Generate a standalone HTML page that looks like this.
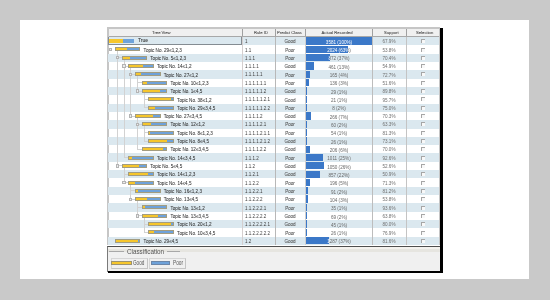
<!DOCTYPE html><html><head><meta charset="utf-8"><style>
*{margin:0;padding:0;box-sizing:border-box}
html,body{width:550px;height:300px;overflow:hidden;background:#c9c9c9}
body{position:relative;will-change:transform;font-family:"Liberation Sans",sans-serif;color:#333333}
.a{position:absolute}
.t{position:absolute;white-space:nowrap;font-size:4.6px;line-height:8.32px;padding-top:1.3px;-webkit-text-stroke:0.05px currentColor}
.h{position:absolute;white-space:nowrap;font-size:4.2px;line-height:7px;top:29px;-webkit-text-stroke:0.04px currentColor;color:#3a3a3a}
</style></head><body>
<div class="a" style="left:20px;top:20px;width:509px;height:259px;background:#fff"></div>
<div class="a" style="left:107px;top:27px;width:333px;height:219px;background:#fff;border:2px solid #c6c6c6;border-bottom:none;border-right:1px solid #c6c6c6"></div>
<div class="a" style="left:109px;top:29px;width:330px;height:7px;background:#f0f0f0"></div>
<div class="a" style="left:109px;top:36px;width:330px;height:1px;background:#a8a8a8"></div>
<div class="a" style="left:108px;top:37.00px;width:331px;height:8.32px;background:#dbe8ef"></div>
<div class="a" style="left:108px;top:53.64px;width:331px;height:8.32px;background:#dbe8ef"></div>
<div class="a" style="left:108px;top:70.28px;width:331px;height:8.32px;background:#dbe8ef"></div>
<div class="a" style="left:108px;top:86.92px;width:331px;height:8.32px;background:#dbe8ef"></div>
<div class="a" style="left:108px;top:103.56px;width:331px;height:8.32px;background:#dbe8ef"></div>
<div class="a" style="left:108px;top:120.20px;width:331px;height:8.32px;background:#dbe8ef"></div>
<div class="a" style="left:108px;top:136.84px;width:331px;height:8.32px;background:#dbe8ef"></div>
<div class="a" style="left:108px;top:153.48px;width:331px;height:8.32px;background:#dbe8ef"></div>
<div class="a" style="left:108px;top:170.12px;width:331px;height:8.32px;background:#dbe8ef"></div>
<div class="a" style="left:108px;top:186.76px;width:331px;height:8.32px;background:#dbe8ef"></div>
<div class="a" style="left:108px;top:203.40px;width:331px;height:8.32px;background:#dbe8ef"></div>
<div class="a" style="left:108px;top:220.04px;width:331px;height:8.32px;background:#dbe8ef"></div>
<div class="a" style="left:108px;top:236.68px;width:331px;height:8.32px;background:#dbe8ef"></div>
<div class="a" style="left:241.5px;top:37px;width:1px;height:208px;background:#d4cfcf"></div>
<div class="a" style="left:241.5px;top:29px;width:1px;height:7px;background:#a0a0a0"></div>
<div class="a" style="left:275.2px;top:37px;width:1px;height:208px;background:#b8b8b8"></div>
<div class="a" style="left:275.2px;top:29px;width:1px;height:7px;background:#a0a0a0"></div>
<div class="a" style="left:305.2px;top:37px;width:1px;height:208px;background:#cfcfcf"></div>
<div class="a" style="left:305.2px;top:29px;width:1px;height:7px;background:#a0a0a0"></div>
<div class="a" style="left:372.2px;top:37px;width:1px;height:208px;background:#bdbdbd"></div>
<div class="a" style="left:372.2px;top:29px;width:1px;height:7px;background:#a0a0a0"></div>
<div class="a" style="left:406.2px;top:37px;width:1px;height:208px;background:#c4c4c4"></div>
<div class="a" style="left:406.2px;top:29px;width:1px;height:7px;background:#a0a0a0"></div>
<div class="h" style="left:152.0px">Tree View</div>
<div class="h" style="left:254.0px">Rule ID</div>
<div class="h" style="left:277.0px">Predict Class</div>
<div class="h" style="left:321.5px">Actual Recorded</div>
<div class="h" style="left:384.0px">Support</div>
<div class="h" style="left:416.0px">Selection</div>
<div class="a" style="left:116.80px;top:50.98px;width:1px;height:114.98px;background:#d2d2d2"></div>
<div class="a" style="left:117.30px;top:57.30px;width:4.60px;height:1px;background:#d2d2d2"></div>
<div class="a" style="left:117.30px;top:165.46px;width:4.60px;height:1px;background:#d2d2d2"></div>
<div class="a" style="left:123.50px;top:59.30px;width:1px;height:98.34px;background:#d2d2d2"></div>
<div class="a" style="left:124.00px;top:65.62px;width:4.60px;height:1px;background:#d2d2d2"></div>
<div class="a" style="left:124.00px;top:157.14px;width:4.60px;height:1px;background:#d2d2d2"></div>
<div class="a" style="left:130.20px;top:67.62px;width:1px;height:48.42px;background:#d2d2d2"></div>
<div class="a" style="left:130.70px;top:73.94px;width:4.60px;height:1px;background:#d2d2d2"></div>
<div class="a" style="left:130.70px;top:115.54px;width:4.60px;height:1px;background:#d2d2d2"></div>
<div class="a" style="left:136.90px;top:75.94px;width:1px;height:15.14px;background:#d2d2d2"></div>
<div class="a" style="left:137.40px;top:82.26px;width:4.60px;height:1px;background:#d2d2d2"></div>
<div class="a" style="left:137.40px;top:90.58px;width:4.60px;height:1px;background:#d2d2d2"></div>
<div class="a" style="left:143.60px;top:92.58px;width:1px;height:15.14px;background:#d2d2d2"></div>
<div class="a" style="left:144.10px;top:98.90px;width:4.60px;height:1px;background:#d2d2d2"></div>
<div class="a" style="left:144.10px;top:107.22px;width:4.60px;height:1px;background:#d2d2d2"></div>
<div class="a" style="left:136.90px;top:117.54px;width:1px;height:31.78px;background:#d2d2d2"></div>
<div class="a" style="left:137.40px;top:123.86px;width:4.60px;height:1px;background:#d2d2d2"></div>
<div class="a" style="left:137.40px;top:148.82px;width:4.60px;height:1px;background:#d2d2d2"></div>
<div class="a" style="left:143.60px;top:125.86px;width:1px;height:15.14px;background:#d2d2d2"></div>
<div class="a" style="left:144.10px;top:132.18px;width:4.60px;height:1px;background:#d2d2d2"></div>
<div class="a" style="left:144.10px;top:140.50px;width:4.60px;height:1px;background:#d2d2d2"></div>
<div class="a" style="left:123.50px;top:167.46px;width:1px;height:15.14px;background:#d2d2d2"></div>
<div class="a" style="left:124.00px;top:173.78px;width:4.60px;height:1px;background:#d2d2d2"></div>
<div class="a" style="left:124.00px;top:182.10px;width:4.60px;height:1px;background:#d2d2d2"></div>
<div class="a" style="left:130.20px;top:184.10px;width:1px;height:15.14px;background:#d2d2d2"></div>
<div class="a" style="left:130.70px;top:190.42px;width:4.60px;height:1px;background:#d2d2d2"></div>
<div class="a" style="left:130.70px;top:198.74px;width:4.60px;height:1px;background:#d2d2d2"></div>
<div class="a" style="left:136.90px;top:200.74px;width:1px;height:15.14px;background:#d2d2d2"></div>
<div class="a" style="left:137.40px;top:207.06px;width:4.60px;height:1px;background:#d2d2d2"></div>
<div class="a" style="left:137.40px;top:215.38px;width:4.60px;height:1px;background:#d2d2d2"></div>
<div class="a" style="left:143.60px;top:217.38px;width:1px;height:15.14px;background:#d2d2d2"></div>
<div class="a" style="left:144.10px;top:223.70px;width:4.60px;height:1px;background:#d2d2d2"></div>
<div class="a" style="left:144.10px;top:232.02px;width:4.60px;height:1px;background:#d2d2d2"></div>
<div class="a" style="left:108.20px;top:39.06px;width:25.60px;height:4px;border:0;background:linear-gradient(90deg,#f6c62c 0,#f6c62c 15.15px,#6ea2da 15.15px,#6ea2da 100%)"></div>
<div class="t" style="left:137.90px;top:36.10px;font-size:5.1px;padding-top:0">True</div>
<div class="t" style="left:244.7px;top:37.00px;color:#3c3c3c;font-size:5.2px;padding-top:0.2px;transform:scaleX(0.87);transform-origin:0 0;-webkit-text-stroke:0">1</div>
<div class="t" style="left:275px;width:30px;text-align:center;top:37.00px;color:#4e4e4e">Good</div>
<div class="a" style="left:306px;top:37.40px;width:66.00px;height:7.3px;background:#3b78c8"></div>
<div class="a" style="left:372.00px;top:37.00px;width:0.00px;height:8.32px;overflow:hidden"><div class="t" style="left:-66.00px;top:0;width:66px;text-align:center;color:#686868;-webkit-text-stroke:0;padding-top:1.8px">3581 (100%)</div></div>
<div class="a" style="left:306px;top:37.00px;width:66.00px;height:8.32px;overflow:hidden"><div class="t" style="left:0;top:0;width:66px;text-align:center;color:#fff;-webkit-text-stroke:0;padding-top:1.6px">3581 (100%)</div></div>
<div class="t" style="left:372px;width:34px;text-align:center;top:37.00px;color:#707070;-webkit-text-stroke:0">67.9%</div>
<div class="a" style="left:421px;top:39.20px;width:4px;height:4px;background:#f8f8f8;border-top:1px solid #a6a6a6;border-left:1px solid #a6a6a6"></div>
<div class="a" style="left:108.90px;top:47.78px;width:3.4px;height:3.4px;border:0.8px solid #b4b4b4;background:#ececec"></div>
<div class="a" style="left:114.90px;top:47.38px;width:25.60px;height:4px;border:0.5px solid #a29c80;background:linear-gradient(90deg,#f6c62c 0,#f6c62c 11.40px,#6ea2da 11.40px,#6ea2da 100%)"></div>
<div class="t" style="left:143.60px;top:45.32px">Topic No. 29≤1,2,3</div>
<div class="t" style="left:244.7px;top:45.32px;color:#3c3c3c;font-size:5.2px;padding-top:0.2px;transform:scaleX(0.87);transform-origin:0 0;-webkit-text-stroke:0">1.1</div>
<div class="t" style="left:275px;width:30px;text-align:center;top:45.32px;color:#4e4e4e">Poor</div>
<div class="a" style="left:306px;top:45.72px;width:41.58px;height:7.3px;background:#3b78c8"></div>
<div class="a" style="left:347.58px;top:45.32px;width:24.42px;height:8.32px;overflow:hidden"><div class="t" style="left:-41.58px;top:0;width:66px;text-align:center;color:#686868;-webkit-text-stroke:0;padding-top:1.8px">2024 (63%)</div></div>
<div class="a" style="left:306px;top:45.32px;width:41.58px;height:8.32px;overflow:hidden"><div class="t" style="left:0;top:0;width:66px;text-align:center;color:#fff;-webkit-text-stroke:0;padding-top:1.6px">2024 (63%)</div></div>
<div class="t" style="left:372px;width:34px;text-align:center;top:45.32px;color:#707070;-webkit-text-stroke:0">53.8%</div>
<div class="a" style="left:421px;top:47.52px;width:4px;height:4px;background:#f8f8f8;border-top:1px solid #a6a6a6;border-left:1px solid #a6a6a6"></div>
<div class="a" style="left:115.60px;top:56.10px;width:3.4px;height:3.4px;border:0.8px solid #b4b4b4;background:#ececec"></div>
<div class="a" style="left:121.60px;top:55.70px;width:25.60px;height:4px;border:0.5px solid #a29c80;background:linear-gradient(90deg,#f6c62c 0,#f6c62c 6.90px,#6ea2da 6.90px,#6ea2da 100%)"></div>
<div class="t" style="left:150.30px;top:53.64px">Topic No. 5≤1,2,3</div>
<div class="t" style="left:244.7px;top:53.64px;color:#3c3c3c;font-size:5.2px;padding-top:0.2px;transform:scaleX(0.87);transform-origin:0 0;-webkit-text-stroke:0">1.1.1</div>
<div class="t" style="left:275px;width:30px;text-align:center;top:53.64px;color:#4e4e4e">Poor</div>
<div class="a" style="left:306px;top:54.04px;width:23.76px;height:7.3px;background:#3b78c8"></div>
<div class="a" style="left:329.76px;top:53.64px;width:42.24px;height:8.32px;overflow:hidden"><div class="t" style="left:-23.76px;top:0;width:66px;text-align:center;color:#686868;-webkit-text-stroke:0;padding-top:1.8px">872 (37%)</div></div>
<div class="a" style="left:306px;top:53.64px;width:23.76px;height:8.32px;overflow:hidden"><div class="t" style="left:0;top:0;width:66px;text-align:center;color:#fff;-webkit-text-stroke:0;padding-top:1.6px">872 (37%)</div></div>
<div class="t" style="left:372px;width:34px;text-align:center;top:53.64px;color:#707070;-webkit-text-stroke:0">70.4%</div>
<div class="a" style="left:421px;top:55.84px;width:4px;height:4px;background:#f8f8f8;border-top:1px solid #a6a6a6;border-left:1px solid #a6a6a6"></div>
<div class="a" style="left:122.30px;top:64.42px;width:3.4px;height:3.4px;border:0.8px solid #b4b4b4;background:#ececec"></div>
<div class="a" style="left:128.30px;top:64.02px;width:25.60px;height:4px;border:0.5px solid #a29c80;background:linear-gradient(90deg,#f6c62c 0,#f6c62c 13.65px,#6ea2da 13.65px,#6ea2da 100%)"></div>
<div class="t" style="left:157.00px;top:61.96px">Topic No. 14≤1,2</div>
<div class="t" style="left:244.7px;top:61.96px;color:#3c3c3c;font-size:5.2px;padding-top:0.2px;transform:scaleX(0.87);transform-origin:0 0;-webkit-text-stroke:0">1.1.1.1</div>
<div class="t" style="left:275px;width:30px;text-align:center;top:61.96px;color:#4e4e4e">Good</div>
<div class="a" style="left:306px;top:62.36px;width:7.92px;height:7.3px;background:#3b78c8"></div>
<div class="a" style="left:313.92px;top:61.96px;width:58.08px;height:8.32px;overflow:hidden"><div class="t" style="left:-7.92px;top:0;width:66px;text-align:center;color:#686868;-webkit-text-stroke:0;padding-top:1.8px">461 (13%)</div></div>
<div class="a" style="left:306px;top:61.96px;width:7.92px;height:8.32px;overflow:hidden"><div class="t" style="left:0;top:0;width:66px;text-align:center;color:#fff;-webkit-text-stroke:0;padding-top:1.6px">461 (13%)</div></div>
<div class="t" style="left:372px;width:34px;text-align:center;top:61.96px;color:#707070;-webkit-text-stroke:0">54.9%</div>
<div class="a" style="left:421px;top:64.16px;width:4px;height:4px;background:#f8f8f8;border-top:1px solid #a6a6a6;border-left:1px solid #a6a6a6"></div>
<div class="a" style="left:129.00px;top:72.74px;width:3.4px;height:3.4px;border:0.8px solid #b4b4b4;background:#ececec"></div>
<div class="a" style="left:135.00px;top:72.34px;width:25.60px;height:4px;border:0.5px solid #a29c80;background:linear-gradient(90deg,#f6c62c 0,#f6c62c 4.90px,#6ea2da 4.90px,#6ea2da 100%)"></div>
<div class="t" style="left:163.70px;top:70.28px">Topic No. 27≤1,2</div>
<div class="t" style="left:244.7px;top:70.28px;color:#3c3c3c;font-size:5.2px;padding-top:0.2px;transform:scaleX(0.87);transform-origin:0 0;-webkit-text-stroke:0">1.1.1.1.1</div>
<div class="t" style="left:275px;width:30px;text-align:center;top:70.28px;color:#4e4e4e">Poor</div>
<div class="a" style="left:306px;top:70.68px;width:3.63px;height:7.3px;background:#3b78c8"></div>
<div class="a" style="left:309.63px;top:70.28px;width:62.37px;height:8.32px;overflow:hidden"><div class="t" style="left:-3.63px;top:0;width:66px;text-align:center;color:#686868;-webkit-text-stroke:0;padding-top:1.8px">165 (4%)</div></div>
<div class="a" style="left:306px;top:70.28px;width:3.63px;height:8.32px;overflow:hidden"><div class="t" style="left:0;top:0;width:66px;text-align:center;color:#fff;-webkit-text-stroke:0;padding-top:1.6px">165 (4%)</div></div>
<div class="t" style="left:372px;width:34px;text-align:center;top:70.28px;color:#707070;-webkit-text-stroke:0">72.7%</div>
<div class="a" style="left:421px;top:72.48px;width:4px;height:4px;background:#f8f8f8;border-top:1px solid #a6a6a6;border-left:1px solid #a6a6a6"></div>
<div class="a" style="left:141.70px;top:80.66px;width:25.60px;height:4px;border:0.5px solid #a29c80;background:linear-gradient(90deg,#f6c62c 0,#f6c62c 4.40px,#6ea2da 4.40px,#6ea2da 100%)"></div>
<div class="t" style="left:170.40px;top:78.60px">Topic No. 10≤1,2,3</div>
<div class="t" style="left:244.7px;top:78.60px;color:#3c3c3c;font-size:5.2px;padding-top:0.2px;transform:scaleX(0.87);transform-origin:0 0;-webkit-text-stroke:0">1.1.1.1.1.1</div>
<div class="t" style="left:275px;width:30px;text-align:center;top:78.60px;color:#4e4e4e">Poor</div>
<div class="a" style="left:306px;top:79.00px;width:2.64px;height:7.3px;background:#3b78c8"></div>
<div class="a" style="left:308.64px;top:78.60px;width:63.36px;height:8.32px;overflow:hidden"><div class="t" style="left:-2.64px;top:0;width:66px;text-align:center;color:#686868;-webkit-text-stroke:0;padding-top:1.8px">136 (3%)</div></div>
<div class="a" style="left:306px;top:78.60px;width:2.64px;height:8.32px;overflow:hidden"><div class="t" style="left:0;top:0;width:66px;text-align:center;color:#fff;-webkit-text-stroke:0;padding-top:1.6px">136 (3%)</div></div>
<div class="t" style="left:372px;width:34px;text-align:center;top:78.60px;color:#707070;-webkit-text-stroke:0">51.6%</div>
<div class="a" style="left:421px;top:80.80px;width:4px;height:4px;background:#f8f8f8;border-top:1px solid #a6a6a6;border-left:1px solid #a6a6a6"></div>
<div class="a" style="left:135.70px;top:89.38px;width:3.4px;height:3.4px;border:0.8px solid #b4b4b4;background:#ececec"></div>
<div class="a" style="left:141.70px;top:88.98px;width:25.60px;height:4px;border:0.5px solid #a29c80;background:linear-gradient(90deg,#f6c62c 0,#f6c62c 16.65px,#6ea2da 16.65px,#6ea2da 100%)"></div>
<div class="t" style="left:170.40px;top:86.92px">Topic No. 1≤4,5</div>
<div class="t" style="left:244.7px;top:86.92px;color:#3c3c3c;font-size:5.2px;padding-top:0.2px;transform:scaleX(0.87);transform-origin:0 0;-webkit-text-stroke:0">1.1.1.1.1.2</div>
<div class="t" style="left:275px;width:30px;text-align:center;top:86.92px;color:#4e4e4e">Good</div>
<div class="a" style="left:306px;top:87.32px;width:0.66px;height:7.3px;background:#3b78c8"></div>
<div class="a" style="left:306.66px;top:86.92px;width:65.34px;height:8.32px;overflow:hidden"><div class="t" style="left:-0.66px;top:0;width:66px;text-align:center;color:#686868;-webkit-text-stroke:0;padding-top:1.8px">29 (1%)</div></div>
<div class="a" style="left:306px;top:86.92px;width:0.66px;height:8.32px;overflow:hidden"><div class="t" style="left:0;top:0;width:66px;text-align:center;color:#fff;-webkit-text-stroke:0;padding-top:1.6px">29 (1%)</div></div>
<div class="t" style="left:372px;width:34px;text-align:center;top:86.92px;color:#707070;-webkit-text-stroke:0">89.8%</div>
<div class="a" style="left:421px;top:89.12px;width:4px;height:4px;background:#f8f8f8;border-top:1px solid #a6a6a6;border-left:1px solid #a6a6a6"></div>
<div class="a" style="left:148.40px;top:97.30px;width:25.60px;height:4px;border:0.5px solid #a29c80;background:linear-gradient(90deg,#f6c62c 0,#f6c62c 21.65px,#6ea2da 21.65px,#6ea2da 100%)"></div>
<div class="t" style="left:177.10px;top:95.24px">Topic No. 38≤1,2</div>
<div class="t" style="left:244.7px;top:95.24px;color:#3c3c3c;font-size:5.2px;padding-top:0.2px;transform:scaleX(0.87);transform-origin:0 0;-webkit-text-stroke:0">1.1.1.1.1.2.1</div>
<div class="t" style="left:275px;width:30px;text-align:center;top:95.24px;color:#4e4e4e">Good</div>
<div class="a" style="left:306px;top:95.64px;width:0.53px;height:7.3px;background:#3b78c8"></div>
<div class="a" style="left:306.53px;top:95.24px;width:65.47px;height:8.32px;overflow:hidden"><div class="t" style="left:-0.53px;top:0;width:66px;text-align:center;color:#686868;-webkit-text-stroke:0;padding-top:1.8px">21 (1%)</div></div>
<div class="a" style="left:306px;top:95.24px;width:0.53px;height:8.32px;overflow:hidden"><div class="t" style="left:0;top:0;width:66px;text-align:center;color:#fff;-webkit-text-stroke:0;padding-top:1.6px">21 (1%)</div></div>
<div class="t" style="left:372px;width:34px;text-align:center;top:95.24px;color:#707070;-webkit-text-stroke:0">95.7%</div>
<div class="a" style="left:421px;top:97.44px;width:4px;height:4px;background:#f8f8f8;border-top:1px solid #a6a6a6;border-left:1px solid #a6a6a6"></div>
<div class="a" style="left:148.40px;top:105.62px;width:25.60px;height:4px;border:0.5px solid #a29c80;background:linear-gradient(90deg,#f6c62c 0,#f6c62c 6.40px,#6ea2da 6.40px,#6ea2da 100%)"></div>
<div class="t" style="left:177.10px;top:103.56px">Topic No. 29≤3,4,5</div>
<div class="t" style="left:244.7px;top:103.56px;color:#3c3c3c;font-size:5.2px;padding-top:0.2px;transform:scaleX(0.87);transform-origin:0 0;-webkit-text-stroke:0">1.1.1.1.1.2.2</div>
<div class="t" style="left:275px;width:30px;text-align:center;top:103.56px;color:#4e4e4e">Poor</div>
<div class="a" style="left:306px;top:103.96px;width:0.53px;height:7.3px;background:#3b78c8"></div>
<div class="a" style="left:306.53px;top:103.56px;width:65.47px;height:8.32px;overflow:hidden"><div class="t" style="left:-0.53px;top:0;width:66px;text-align:center;color:#686868;-webkit-text-stroke:0;padding-top:1.8px">8 (2%)</div></div>
<div class="a" style="left:306px;top:103.56px;width:0.53px;height:8.32px;overflow:hidden"><div class="t" style="left:0;top:0;width:66px;text-align:center;color:#fff;-webkit-text-stroke:0;padding-top:1.6px">8 (2%)</div></div>
<div class="t" style="left:372px;width:34px;text-align:center;top:103.56px;color:#707070;-webkit-text-stroke:0">75.0%</div>
<div class="a" style="left:421px;top:105.76px;width:4px;height:4px;background:#f8f8f8;border-top:1px solid #a6a6a6;border-left:1px solid #a6a6a6"></div>
<div class="a" style="left:129.00px;top:114.34px;width:3.4px;height:3.4px;border:0.8px solid #b4b4b4;background:#ececec"></div>
<div class="a" style="left:135.00px;top:113.94px;width:25.60px;height:4px;border:0.5px solid #a29c80;background:linear-gradient(90deg,#f6c62c 0,#f6c62c 17.15px,#6ea2da 17.15px,#6ea2da 100%)"></div>
<div class="t" style="left:163.70px;top:111.88px">Topic No. 27≤3,4,5</div>
<div class="t" style="left:244.7px;top:111.88px;color:#3c3c3c;font-size:5.2px;padding-top:0.2px;transform:scaleX(0.87);transform-origin:0 0;-webkit-text-stroke:0">1.1.1.1.2</div>
<div class="t" style="left:275px;width:30px;text-align:center;top:111.88px;color:#4e4e4e">Good</div>
<div class="a" style="left:306px;top:112.28px;width:4.62px;height:7.3px;background:#3b78c8"></div>
<div class="a" style="left:310.62px;top:111.88px;width:61.38px;height:8.32px;overflow:hidden"><div class="t" style="left:-4.62px;top:0;width:66px;text-align:center;color:#686868;-webkit-text-stroke:0;padding-top:1.8px">266 (7%)</div></div>
<div class="a" style="left:306px;top:111.88px;width:4.62px;height:8.32px;overflow:hidden"><div class="t" style="left:0;top:0;width:66px;text-align:center;color:#fff;-webkit-text-stroke:0;padding-top:1.6px">266 (7%)</div></div>
<div class="t" style="left:372px;width:34px;text-align:center;top:111.88px;color:#707070;-webkit-text-stroke:0">70.3%</div>
<div class="a" style="left:421px;top:114.08px;width:4px;height:4px;background:#f8f8f8;border-top:1px solid #a6a6a6;border-left:1px solid #a6a6a6"></div>
<div class="a" style="left:135.70px;top:122.66px;width:3.4px;height:3.4px;border:0.8px solid #b4b4b4;background:#ececec"></div>
<div class="a" style="left:141.70px;top:122.26px;width:25.60px;height:4px;border:0.5px solid #a29c80;background:linear-gradient(90deg,#f6c62c 0,#f6c62c 7.90px,#6ea2da 7.90px,#6ea2da 100%)"></div>
<div class="t" style="left:170.40px;top:120.20px">Topic No. 12≤1,2</div>
<div class="t" style="left:244.7px;top:120.20px;color:#3c3c3c;font-size:5.2px;padding-top:0.2px;transform:scaleX(0.87);transform-origin:0 0;-webkit-text-stroke:0">1.1.1.1.2.1</div>
<div class="t" style="left:275px;width:30px;text-align:center;top:120.20px;color:#4e4e4e">Poor</div>
<div class="a" style="left:306px;top:120.60px;width:1.32px;height:7.3px;background:#3b78c8"></div>
<div class="a" style="left:307.32px;top:120.20px;width:64.68px;height:8.32px;overflow:hidden"><div class="t" style="left:-1.32px;top:0;width:66px;text-align:center;color:#686868;-webkit-text-stroke:0;padding-top:1.8px">60 (2%)</div></div>
<div class="a" style="left:306px;top:120.20px;width:1.32px;height:8.32px;overflow:hidden"><div class="t" style="left:0;top:0;width:66px;text-align:center;color:#fff;-webkit-text-stroke:0;padding-top:1.6px">60 (2%)</div></div>
<div class="t" style="left:372px;width:34px;text-align:center;top:120.20px;color:#707070;-webkit-text-stroke:0">63.3%</div>
<div class="a" style="left:421px;top:122.40px;width:4px;height:4px;background:#f8f8f8;border-top:1px solid #a6a6a6;border-left:1px solid #a6a6a6"></div>
<div class="a" style="left:148.40px;top:130.58px;width:25.60px;height:4px;border:0.5px solid #a29c80;background:linear-gradient(90deg,#f6c62c 0,#f6c62c 1.40px,#6ea2da 1.40px,#6ea2da 100%)"></div>
<div class="t" style="left:177.10px;top:128.52px">Topic No. 8≤1,2,3</div>
<div class="t" style="left:244.7px;top:128.52px;color:#3c3c3c;font-size:5.2px;padding-top:0.2px;transform:scaleX(0.87);transform-origin:0 0;-webkit-text-stroke:0">1.1.1.1.2.1.1</div>
<div class="t" style="left:275px;width:30px;text-align:center;top:128.52px;color:#4e4e4e">Poor</div>
<div class="a" style="left:306px;top:128.92px;width:0.66px;height:7.3px;background:#3b78c8"></div>
<div class="a" style="left:306.66px;top:128.52px;width:65.34px;height:8.32px;overflow:hidden"><div class="t" style="left:-0.66px;top:0;width:66px;text-align:center;color:#686868;-webkit-text-stroke:0;padding-top:1.8px">54 (1%)</div></div>
<div class="a" style="left:306px;top:128.52px;width:0.66px;height:8.32px;overflow:hidden"><div class="t" style="left:0;top:0;width:66px;text-align:center;color:#fff;-webkit-text-stroke:0;padding-top:1.6px">54 (1%)</div></div>
<div class="t" style="left:372px;width:34px;text-align:center;top:128.52px;color:#707070;-webkit-text-stroke:0">81.3%</div>
<div class="a" style="left:421px;top:130.72px;width:4px;height:4px;background:#f8f8f8;border-top:1px solid #a6a6a6;border-left:1px solid #a6a6a6"></div>
<div class="a" style="left:148.40px;top:138.90px;width:25.60px;height:4px;border:0.5px solid #a29c80;background:linear-gradient(90deg,#f6c62c 0,#f6c62c 17.90px,#6ea2da 17.90px,#6ea2da 100%)"></div>
<div class="t" style="left:177.10px;top:136.84px">Topic No. 8≤4,5</div>
<div class="t" style="left:244.7px;top:136.84px;color:#3c3c3c;font-size:5.2px;padding-top:0.2px;transform:scaleX(0.87);transform-origin:0 0;-webkit-text-stroke:0">1.1.1.1.2.1.2</div>
<div class="t" style="left:275px;width:30px;text-align:center;top:136.84px;color:#4e4e4e">Good</div>
<div class="a" style="left:306px;top:137.24px;width:0.53px;height:7.3px;background:#3b78c8"></div>
<div class="a" style="left:306.53px;top:136.84px;width:65.47px;height:8.32px;overflow:hidden"><div class="t" style="left:-0.53px;top:0;width:66px;text-align:center;color:#686868;-webkit-text-stroke:0;padding-top:1.8px">26 (1%)</div></div>
<div class="a" style="left:306px;top:136.84px;width:0.53px;height:8.32px;overflow:hidden"><div class="t" style="left:0;top:0;width:66px;text-align:center;color:#fff;-webkit-text-stroke:0;padding-top:1.6px">26 (1%)</div></div>
<div class="t" style="left:372px;width:34px;text-align:center;top:136.84px;color:#707070;-webkit-text-stroke:0">73.1%</div>
<div class="a" style="left:421px;top:139.04px;width:4px;height:4px;background:#f8f8f8;border-top:1px solid #a6a6a6;border-left:1px solid #a6a6a6"></div>
<div class="a" style="left:141.70px;top:147.22px;width:25.60px;height:4px;border:0.5px solid #a29c80;background:linear-gradient(90deg,#f6c62c 0,#f6c62c 19.90px,#6ea2da 19.90px,#6ea2da 100%)"></div>
<div class="t" style="left:170.40px;top:145.16px">Topic No. 12≤3,4,5</div>
<div class="t" style="left:244.7px;top:145.16px;color:#3c3c3c;font-size:5.2px;padding-top:0.2px;transform:scaleX(0.87);transform-origin:0 0;-webkit-text-stroke:0">1.1.1.1.2.2</div>
<div class="t" style="left:275px;width:30px;text-align:center;top:145.16px;color:#4e4e4e">Good</div>
<div class="a" style="left:306px;top:145.56px;width:3.96px;height:7.3px;background:#3b78c8"></div>
<div class="a" style="left:309.96px;top:145.16px;width:62.04px;height:8.32px;overflow:hidden"><div class="t" style="left:-3.96px;top:0;width:66px;text-align:center;color:#686868;-webkit-text-stroke:0;padding-top:1.8px">206 (6%)</div></div>
<div class="a" style="left:306px;top:145.16px;width:3.96px;height:8.32px;overflow:hidden"><div class="t" style="left:0;top:0;width:66px;text-align:center;color:#fff;-webkit-text-stroke:0;padding-top:1.6px">206 (6%)</div></div>
<div class="t" style="left:372px;width:34px;text-align:center;top:145.16px;color:#707070;-webkit-text-stroke:0">70.0%</div>
<div class="a" style="left:421px;top:147.36px;width:4px;height:4px;background:#f8f8f8;border-top:1px solid #a6a6a6;border-left:1px solid #a6a6a6"></div>
<div class="a" style="left:128.30px;top:155.54px;width:25.60px;height:4px;border:0.5px solid #a29c80;background:linear-gradient(90deg,#f6c62c 0,#f6c62c 3.40px,#6ea2da 3.40px,#6ea2da 100%)"></div>
<div class="t" style="left:157.00px;top:153.48px">Topic No. 14≤3,4,5</div>
<div class="t" style="left:244.7px;top:153.48px;color:#3c3c3c;font-size:5.2px;padding-top:0.2px;transform:scaleX(0.87);transform-origin:0 0;-webkit-text-stroke:0">1.1.1.2</div>
<div class="t" style="left:275px;width:30px;text-align:center;top:153.48px;color:#4e4e4e">Poor</div>
<div class="a" style="left:306px;top:153.88px;width:17.16px;height:7.3px;background:#3b78c8"></div>
<div class="a" style="left:323.16px;top:153.48px;width:48.84px;height:8.32px;overflow:hidden"><div class="t" style="left:-17.16px;top:0;width:66px;text-align:center;color:#686868;-webkit-text-stroke:0;padding-top:1.8px">1011 (25%)</div></div>
<div class="a" style="left:306px;top:153.48px;width:17.16px;height:8.32px;overflow:hidden"><div class="t" style="left:0;top:0;width:66px;text-align:center;color:#fff;-webkit-text-stroke:0;padding-top:1.6px">1011 (25%)</div></div>
<div class="t" style="left:372px;width:34px;text-align:center;top:153.48px;color:#707070;-webkit-text-stroke:0">92.6%</div>
<div class="a" style="left:421px;top:155.68px;width:4px;height:4px;background:#f8f8f8;border-top:1px solid #a6a6a6;border-left:1px solid #a6a6a6"></div>
<div class="a" style="left:115.60px;top:164.26px;width:3.4px;height:3.4px;border:0.8px solid #b4b4b4;background:#ececec"></div>
<div class="a" style="left:121.60px;top:163.86px;width:25.60px;height:4px;border:0.5px solid #a29c80;background:linear-gradient(90deg,#f6c62c 0,#f6c62c 16.40px,#6ea2da 16.40px,#6ea2da 100%)"></div>
<div class="t" style="left:150.30px;top:161.80px">Topic No. 5≤4,5</div>
<div class="t" style="left:244.7px;top:161.80px;color:#3c3c3c;font-size:5.2px;padding-top:0.2px;transform:scaleX(0.87);transform-origin:0 0;-webkit-text-stroke:0">1.1.2</div>
<div class="t" style="left:275px;width:30px;text-align:center;top:161.80px;color:#4e4e4e">Good</div>
<div class="a" style="left:306px;top:162.20px;width:17.82px;height:7.3px;background:#3b78c8"></div>
<div class="a" style="left:323.82px;top:161.80px;width:48.18px;height:8.32px;overflow:hidden"><div class="t" style="left:-17.82px;top:0;width:66px;text-align:center;color:#686868;-webkit-text-stroke:0;padding-top:1.8px">1050 (26%)</div></div>
<div class="a" style="left:306px;top:161.80px;width:17.82px;height:8.32px;overflow:hidden"><div class="t" style="left:0;top:0;width:66px;text-align:center;color:#fff;-webkit-text-stroke:0;padding-top:1.6px">1050 (26%)</div></div>
<div class="t" style="left:372px;width:34px;text-align:center;top:161.80px;color:#707070;-webkit-text-stroke:0">52.6%</div>
<div class="a" style="left:421px;top:164.00px;width:4px;height:4px;background:#f8f8f8;border-top:1px solid #a6a6a6;border-left:1px solid #a6a6a6"></div>
<div class="a" style="left:128.30px;top:172.18px;width:25.60px;height:4px;border:0.5px solid #a29c80;background:linear-gradient(90deg,#f6c62c 0,#f6c62c 19.15px,#6ea2da 19.15px,#6ea2da 100%)"></div>
<div class="t" style="left:157.00px;top:170.12px">Topic No. 14≤1,2,3</div>
<div class="t" style="left:244.7px;top:170.12px;color:#3c3c3c;font-size:5.2px;padding-top:0.2px;transform:scaleX(0.87);transform-origin:0 0;-webkit-text-stroke:0">1.1.2.1</div>
<div class="t" style="left:275px;width:30px;text-align:center;top:170.12px;color:#4e4e4e">Good</div>
<div class="a" style="left:306px;top:170.52px;width:13.86px;height:7.3px;background:#3b78c8"></div>
<div class="a" style="left:319.86px;top:170.12px;width:52.14px;height:8.32px;overflow:hidden"><div class="t" style="left:-13.86px;top:0;width:66px;text-align:center;color:#686868;-webkit-text-stroke:0;padding-top:1.8px">857 (22%)</div></div>
<div class="a" style="left:306px;top:170.12px;width:13.86px;height:8.32px;overflow:hidden"><div class="t" style="left:0;top:0;width:66px;text-align:center;color:#fff;-webkit-text-stroke:0;padding-top:1.6px">857 (22%)</div></div>
<div class="t" style="left:372px;width:34px;text-align:center;top:170.12px;color:#707070;-webkit-text-stroke:0">50.9%</div>
<div class="a" style="left:421px;top:172.32px;width:4px;height:4px;background:#f8f8f8;border-top:1px solid #a6a6a6;border-left:1px solid #a6a6a6"></div>
<div class="a" style="left:122.30px;top:180.90px;width:3.4px;height:3.4px;border:0.8px solid #b4b4b4;background:#ececec"></div>
<div class="a" style="left:128.30px;top:180.50px;width:25.60px;height:4px;border:0.5px solid #a29c80;background:linear-gradient(90deg,#f6c62c 0,#f6c62c 6.40px,#6ea2da 6.40px,#6ea2da 100%)"></div>
<div class="t" style="left:157.00px;top:178.44px">Topic No. 14≤4,5</div>
<div class="t" style="left:244.7px;top:178.44px;color:#3c3c3c;font-size:5.2px;padding-top:0.2px;transform:scaleX(0.87);transform-origin:0 0;-webkit-text-stroke:0">1.1.2.2</div>
<div class="t" style="left:275px;width:30px;text-align:center;top:178.44px;color:#4e4e4e">Poor</div>
<div class="a" style="left:306px;top:178.84px;width:3.63px;height:7.3px;background:#3b78c8"></div>
<div class="a" style="left:309.63px;top:178.44px;width:62.37px;height:8.32px;overflow:hidden"><div class="t" style="left:-3.63px;top:0;width:66px;text-align:center;color:#686868;-webkit-text-stroke:0;padding-top:1.8px">196 (5%)</div></div>
<div class="a" style="left:306px;top:178.44px;width:3.63px;height:8.32px;overflow:hidden"><div class="t" style="left:0;top:0;width:66px;text-align:center;color:#fff;-webkit-text-stroke:0;padding-top:1.6px">196 (5%)</div></div>
<div class="t" style="left:372px;width:34px;text-align:center;top:178.44px;color:#707070;-webkit-text-stroke:0">71.3%</div>
<div class="a" style="left:421px;top:180.64px;width:4px;height:4px;background:#f8f8f8;border-top:1px solid #a6a6a6;border-left:1px solid #a6a6a6"></div>
<div class="a" style="left:135.00px;top:188.82px;width:25.60px;height:4px;border:0.5px solid #a29c80;background:linear-gradient(90deg,#f6c62c 0,#f6c62c 1.90px,#6ea2da 1.90px,#6ea2da 100%)"></div>
<div class="t" style="left:163.70px;top:186.76px">Topic No. 16≤1,2,3</div>
<div class="t" style="left:244.7px;top:186.76px;color:#3c3c3c;font-size:5.2px;padding-top:0.2px;transform:scaleX(0.87);transform-origin:0 0;-webkit-text-stroke:0">1.1.2.2.1</div>
<div class="t" style="left:275px;width:30px;text-align:center;top:186.76px;color:#4e4e4e">Poor</div>
<div class="a" style="left:306px;top:187.16px;width:1.65px;height:7.3px;background:#3b78c8"></div>
<div class="a" style="left:307.65px;top:186.76px;width:64.35px;height:8.32px;overflow:hidden"><div class="t" style="left:-1.65px;top:0;width:66px;text-align:center;color:#686868;-webkit-text-stroke:0;padding-top:1.8px">91 (2%)</div></div>
<div class="a" style="left:306px;top:186.76px;width:1.65px;height:8.32px;overflow:hidden"><div class="t" style="left:0;top:0;width:66px;text-align:center;color:#fff;-webkit-text-stroke:0;padding-top:1.6px">91 (2%)</div></div>
<div class="t" style="left:372px;width:34px;text-align:center;top:186.76px;color:#707070;-webkit-text-stroke:0">81.2%</div>
<div class="a" style="left:421px;top:188.96px;width:4px;height:4px;background:#f8f8f8;border-top:1px solid #a6a6a6;border-left:1px solid #a6a6a6"></div>
<div class="a" style="left:129.00px;top:197.54px;width:3.4px;height:3.4px;border:0.8px solid #b4b4b4;background:#ececec"></div>
<div class="a" style="left:135.00px;top:197.14px;width:25.60px;height:4px;border:0.5px solid #a29c80;background:linear-gradient(90deg,#f6c62c 0,#f6c62c 10.90px,#6ea2da 10.90px,#6ea2da 100%)"></div>
<div class="t" style="left:163.70px;top:195.08px">Topic No. 13≤4,5</div>
<div class="t" style="left:244.7px;top:195.08px;color:#3c3c3c;font-size:5.2px;padding-top:0.2px;transform:scaleX(0.87);transform-origin:0 0;-webkit-text-stroke:0">1.1.2.2.2</div>
<div class="t" style="left:275px;width:30px;text-align:center;top:195.08px;color:#4e4e4e">Poor</div>
<div class="a" style="left:306px;top:195.48px;width:1.98px;height:7.3px;background:#3b78c8"></div>
<div class="a" style="left:307.98px;top:195.08px;width:64.02px;height:8.32px;overflow:hidden"><div class="t" style="left:-1.98px;top:0;width:66px;text-align:center;color:#686868;-webkit-text-stroke:0;padding-top:1.8px">104 (3%)</div></div>
<div class="a" style="left:306px;top:195.08px;width:1.98px;height:8.32px;overflow:hidden"><div class="t" style="left:0;top:0;width:66px;text-align:center;color:#fff;-webkit-text-stroke:0;padding-top:1.6px">104 (3%)</div></div>
<div class="t" style="left:372px;width:34px;text-align:center;top:195.08px;color:#707070;-webkit-text-stroke:0">53.8%</div>
<div class="a" style="left:421px;top:197.28px;width:4px;height:4px;background:#f8f8f8;border-top:1px solid #a6a6a6;border-left:1px solid #a6a6a6"></div>
<div class="a" style="left:141.70px;top:205.46px;width:25.60px;height:4px;border:0.5px solid #a29c80;background:linear-gradient(90deg,#f6c62c 0,#f6c62c 1.90px,#6ea2da 1.90px,#6ea2da 100%)"></div>
<div class="t" style="left:170.40px;top:203.40px">Topic No. 13≤1,2</div>
<div class="t" style="left:244.7px;top:203.40px;color:#3c3c3c;font-size:5.2px;padding-top:0.2px;transform:scaleX(0.87);transform-origin:0 0;-webkit-text-stroke:0">1.1.2.2.2.1</div>
<div class="t" style="left:275px;width:30px;text-align:center;top:203.40px;color:#4e4e4e">Poor</div>
<div class="a" style="left:306px;top:203.80px;width:0.66px;height:7.3px;background:#3b78c8"></div>
<div class="a" style="left:306.66px;top:203.40px;width:65.34px;height:8.32px;overflow:hidden"><div class="t" style="left:-0.66px;top:0;width:66px;text-align:center;color:#686868;-webkit-text-stroke:0;padding-top:1.8px">35 (1%)</div></div>
<div class="a" style="left:306px;top:203.40px;width:0.66px;height:8.32px;overflow:hidden"><div class="t" style="left:0;top:0;width:66px;text-align:center;color:#fff;-webkit-text-stroke:0;padding-top:1.6px">35 (1%)</div></div>
<div class="t" style="left:372px;width:34px;text-align:center;top:203.40px;color:#707070;-webkit-text-stroke:0">93.6%</div>
<div class="a" style="left:421px;top:205.60px;width:4px;height:4px;background:#f8f8f8;border-top:1px solid #a6a6a6;border-left:1px solid #a6a6a6"></div>
<div class="a" style="left:135.70px;top:214.18px;width:3.4px;height:3.4px;border:0.8px solid #b4b4b4;background:#ececec"></div>
<div class="a" style="left:141.70px;top:213.78px;width:25.60px;height:4px;border:0.5px solid #a29c80;background:linear-gradient(90deg,#f6c62c 0,#f6c62c 15.40px,#6ea2da 15.40px,#6ea2da 100%)"></div>
<div class="t" style="left:170.40px;top:211.72px">Topic No. 13≤3,4,5</div>
<div class="t" style="left:244.7px;top:211.72px;color:#3c3c3c;font-size:5.2px;padding-top:0.2px;transform:scaleX(0.87);transform-origin:0 0;-webkit-text-stroke:0">1.1.2.2.2.2</div>
<div class="t" style="left:275px;width:30px;text-align:center;top:211.72px;color:#4e4e4e">Good</div>
<div class="a" style="left:306px;top:212.12px;width:1.32px;height:7.3px;background:#3b78c8"></div>
<div class="a" style="left:307.32px;top:211.72px;width:64.68px;height:8.32px;overflow:hidden"><div class="t" style="left:-1.32px;top:0;width:66px;text-align:center;color:#686868;-webkit-text-stroke:0;padding-top:1.8px">69 (2%)</div></div>
<div class="a" style="left:306px;top:211.72px;width:1.32px;height:8.32px;overflow:hidden"><div class="t" style="left:0;top:0;width:66px;text-align:center;color:#fff;-webkit-text-stroke:0;padding-top:1.6px">69 (2%)</div></div>
<div class="t" style="left:372px;width:34px;text-align:center;top:211.72px;color:#707070;-webkit-text-stroke:0">63.8%</div>
<div class="a" style="left:421px;top:213.92px;width:4px;height:4px;background:#f8f8f8;border-top:1px solid #a6a6a6;border-left:1px solid #a6a6a6"></div>
<div class="a" style="left:148.40px;top:222.10px;width:25.60px;height:4px;border:0.5px solid #a29c80;background:linear-gradient(90deg,#f6c62c 0,#f6c62c 21.65px,#6ea2da 21.65px,#6ea2da 100%)"></div>
<div class="t" style="left:177.10px;top:220.04px">Topic No. 20≤1,2</div>
<div class="t" style="left:244.7px;top:220.04px;color:#3c3c3c;font-size:5.2px;padding-top:0.2px;transform:scaleX(0.87);transform-origin:0 0;-webkit-text-stroke:0">1.1.2.2.2.2.1</div>
<div class="t" style="left:275px;width:30px;text-align:center;top:220.04px;color:#4e4e4e">Good</div>
<div class="a" style="left:306px;top:220.44px;width:0.66px;height:7.3px;background:#3b78c8"></div>
<div class="a" style="left:306.66px;top:220.04px;width:65.34px;height:8.32px;overflow:hidden"><div class="t" style="left:-0.66px;top:0;width:66px;text-align:center;color:#686868;-webkit-text-stroke:0;padding-top:1.8px">45 (1%)</div></div>
<div class="a" style="left:306px;top:220.04px;width:0.66px;height:8.32px;overflow:hidden"><div class="t" style="left:0;top:0;width:66px;text-align:center;color:#fff;-webkit-text-stroke:0;padding-top:1.6px">45 (1%)</div></div>
<div class="t" style="left:372px;width:34px;text-align:center;top:220.04px;color:#707070;-webkit-text-stroke:0">80.0%</div>
<div class="a" style="left:421px;top:222.24px;width:4px;height:4px;background:#f8f8f8;border-top:1px solid #a6a6a6;border-left:1px solid #a6a6a6"></div>
<div class="a" style="left:148.40px;top:230.42px;width:25.60px;height:4px;border:0.5px solid #a29c80;background:linear-gradient(90deg,#f6c62c 0,#f6c62c 5.15px,#6ea2da 5.15px,#6ea2da 100%)"></div>
<div class="t" style="left:177.10px;top:228.36px">Topic No. 10≤3,4,5</div>
<div class="t" style="left:244.7px;top:228.36px;color:#3c3c3c;font-size:5.2px;padding-top:0.2px;transform:scaleX(0.87);transform-origin:0 0;-webkit-text-stroke:0">1.1.2.2.2.2.2</div>
<div class="t" style="left:275px;width:30px;text-align:center;top:228.36px;color:#4e4e4e">Poor</div>
<div class="a" style="left:306px;top:228.76px;width:0.53px;height:7.3px;background:#3b78c8"></div>
<div class="a" style="left:306.53px;top:228.36px;width:65.47px;height:8.32px;overflow:hidden"><div class="t" style="left:-0.53px;top:0;width:66px;text-align:center;color:#686868;-webkit-text-stroke:0;padding-top:1.8px">26 (1%)</div></div>
<div class="a" style="left:306px;top:228.36px;width:0.53px;height:8.32px;overflow:hidden"><div class="t" style="left:0;top:0;width:66px;text-align:center;color:#fff;-webkit-text-stroke:0;padding-top:1.6px">26 (1%)</div></div>
<div class="t" style="left:372px;width:34px;text-align:center;top:228.36px;color:#707070;-webkit-text-stroke:0">76.9%</div>
<div class="a" style="left:421px;top:230.56px;width:4px;height:4px;background:#f8f8f8;border-top:1px solid #a6a6a6;border-left:1px solid #a6a6a6"></div>
<div class="a" style="left:114.90px;top:238.74px;width:25.60px;height:4px;border:0.5px solid #a29c80;background:linear-gradient(90deg,#f6c62c 0,#f6c62c 22.15px,#6ea2da 22.15px,#6ea2da 100%)"></div>
<div class="t" style="left:143.60px;top:236.68px">Topic No. 29≤4,5</div>
<div class="t" style="left:244.7px;top:236.68px;color:#3c3c3c;font-size:5.2px;padding-top:0.2px;transform:scaleX(0.87);transform-origin:0 0;-webkit-text-stroke:0">1.2</div>
<div class="t" style="left:275px;width:30px;text-align:center;top:236.68px;color:#4e4e4e">Good</div>
<div class="a" style="left:306px;top:237.08px;width:23.10px;height:7.3px;background:#3b78c8"></div>
<div class="a" style="left:329.10px;top:236.68px;width:42.90px;height:8.32px;overflow:hidden"><div class="t" style="left:-23.10px;top:0;width:66px;text-align:center;color:#686868;-webkit-text-stroke:0;padding-top:1.8px">1287 (37%)</div></div>
<div class="a" style="left:306px;top:236.68px;width:23.10px;height:8.32px;overflow:hidden"><div class="t" style="left:0;top:0;width:66px;text-align:center;color:#fff;-webkit-text-stroke:0;padding-top:1.6px">1287 (37%)</div></div>
<div class="t" style="left:372px;width:34px;text-align:center;top:236.68px;color:#707070;-webkit-text-stroke:0">81.6%</div>
<div class="a" style="left:421px;top:238.88px;width:4px;height:4px;background:#f8f8f8;border-top:1px solid #a6a6a6;border-left:1px solid #a6a6a6"></div>
<div class="a" style="left:108px;top:36.5px;width:134px;height:8.3px;border:1px solid #848c92;border-top:none"></div>
<div class="a" style="left:107px;top:245px;width:333px;height:1.6px;background:#fff"></div>
<div class="a" style="left:107px;top:246px;width:333px;height:26px;background:#f0f0f0;border-top:1px solid #4e4e4e;border-left:1px solid #7a7a7a"></div>
<div class="a" style="left:108px;top:247px;width:332px;height:1.5px;background:#f4f2ee"></div>
<div class="a" style="left:108px;top:248.5px;width:332px;height:3px;background:#e6e5e0"></div>
<div class="a" style="left:108.5px;top:251px;width:15px;height:1px;background:#a8a8a8"></div>
<div class="a" style="left:167px;top:251px;width:13px;height:1px;background:#a8a8a8"></div>
<div class="a" style="white-space:nowrap;left:127px;top:247.8px;font-size:6.3px;line-height:7px;color:#555">Classification</div>
<div class="a" style="left:110.5px;top:257.5px;width:37px;height:11px;border:1px solid #d6d6d6;border-right-color:#c4c4c4;border-bottom-color:#c4c4c4"></div>
<div class="a" style="left:111.4px;top:261.4px;width:20.4px;height:3.2px;background:#f6c62c;border:0.6px solid #9c9270"></div>
<div class="a" style="white-space:nowrap;left:132.8px;top:259px;font-size:6.3px;line-height:7px;color:#555;transform:scaleX(0.74);transform-origin:0 0">Good</div>
<div class="a" style="left:149px;top:257.5px;width:37px;height:11px;border:1px solid #d6d6d6;border-right-color:#c4c4c4;border-bottom-color:#c4c4c4"></div>
<div class="a" style="left:150.7px;top:261.4px;width:19.5px;height:3.2px;background:#6ea2da;border:0.6px solid #6c86a8"></div>
<div class="a" style="white-space:nowrap;left:172.8px;top:259px;font-size:6.3px;line-height:7px;color:#555;transform:scaleX(0.76);transform-origin:0 0">Poor</div>
<div class="a" style="left:440.4px;top:27.8px;width:2.6px;height:245.2px;background:#000"></div>
<div class="a" style="left:108px;top:271.3px;width:335px;height:1.8px;background:#000"></div>
</body></html>
